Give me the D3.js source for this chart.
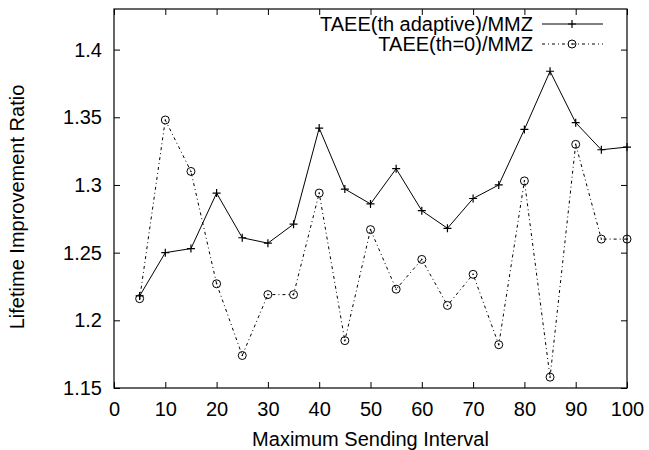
<!DOCTYPE html>
<html>
<head>
<meta charset="utf-8">
<script src="https://cdn.jsdelivr.net/npm/d3@7"></script>
<style>
  html, body { margin: 0; padding: 0; background: #fff; }
  svg { display: block; font-family: "Liberation Sans", Arial, Helvetica, sans-serif; }
</style>
</head>
<body>
<svg id="chart" width="649" height="450"></svg>
<script>
const intervals = [5,10,15,20,25,30,35,40,45,50,55,60,65,70,75,80,85,90,95,100];
const adaptive = [1.218,1.250,1.253,1.294,1.261,1.257,1.271,1.342,1.297,1.286,1.312,1.281,1.268,1.290,1.300,1.341,1.384,1.346,1.326,1.328];
const thZero = [1.216,1.348,1.310,1.227,1.174,1.219,1.219,1.294,1.185,1.267,1.223,1.245,1.211,1.234,1.182,1.303,1.158,1.330,1.260,1.260];
const xTicks = [0,10,20,30,40,50,60,70,80,90,100];
const yTicks = [1.15,1.2,1.25,1.3,1.35,1.4];
const yTickLabels = ["1.15","1.2","1.25","1.3","1.35","1.4"];
const seriesNames = ["TAEE(th adaptive)/MMZ","TAEE(th=0)/MMZ"];

const svg = d3.select("#chart");
const L = 114, R = 627, T = 9, B = 388;
const x = d3.scaleLinear().domain([0,100]).range([L,R]);
const y = d3.scaleLinear().domain([1.15,1.43]).range([B,T]);
const fs = 20;

// axes
const gB = svg.append("g").attr("transform",`translate(0,${B})`)
  .call(d3.axisBottom(x).tickValues(xTicks).tickSize(-6).tickPadding(14).tickFormat(d3.format("d")));
const gL = svg.append("g").attr("transform",`translate(${L},0)`)
  .call(d3.axisLeft(y).tickValues(yTicks).tickSize(-6).tickPadding(12).tickFormat((d,i)=>yTickLabels[i]));
const gT = svg.append("g").attr("transform",`translate(0,${T})`)
  .call(d3.axisTop(x).tickValues(xTicks).tickSize(-6).tickFormat(""));
const gR = svg.append("g").attr("transform",`translate(${R},0)`)
  .call(d3.axisRight(y).tickValues(yTicks).tickSize(-6).tickFormat(""));
[gB,gL,gT,gR].forEach(g=>{
  g.select(".domain").remove();
  g.selectAll("line").attr("stroke","#000").attr("stroke-width",1);
  g.selectAll("text").attr("font-size",fs).attr("fill","#000").attr("font-family","Liberation Sans, Arial, sans-serif");
});
svg.append("rect").attr("x",L).attr("y",T).attr("width",R-L).attr("height",B-T)
  .attr("fill","none").attr("stroke","#000").attr("stroke-width",1.2);

// axis titles
svg.append("text").attr("x",(L+R)/2).attr("y",446).attr("text-anchor","middle")
  .attr("font-size",fs).text("Maximum Sending Interval");
svg.append("text").attr("transform","translate(24,207) rotate(-90)").attr("text-anchor","middle")
  .attr("font-size",fs).text("Lifetime Improvement Ratio");

// series
const line = d3.line().x((d,i)=>x(intervals[i])).y(d=>y(d));
svg.append("path").datum(adaptive).attr("d",line).attr("fill","none")
  .attr("stroke","#000").attr("stroke-width",1);
svg.append("path").datum(thZero).attr("d",line).attr("fill","none")
  .attr("stroke","#000").attr("stroke-width",1).attr("stroke-dasharray","3,3,1,3");

function plus(g, cx, cy){
  g.append("path").attr("d",`M${cx-4},${cy}H${cx+4}M${cx},${cy-4}V${cy+4}`)
    .attr("stroke","#000").attr("stroke-width",1.2).attr("fill","none");
}
function circ(g, cx, cy){
  g.append("circle").attr("cx",cx).attr("cy",cy).attr("r",4)
    .attr("fill","none").attr("stroke","#000").attr("stroke-width",1);
  g.append("circle").attr("cx",cx).attr("cy",cy).attr("r",0.8).attr("fill","#000");
}
const gm = svg.append("g");
adaptive.forEach((v,i)=>plus(gm, x(intervals[i]), y(v)));
thZero.forEach((v,i)=>circ(gm, x(intervals[i]), y(v)));

// legend
const legY = [24,44];
seriesNames.forEach((n,i)=>{
  svg.append("text").attr("x",533).attr("y",legY[i]).attr("dy","0.35em")
    .attr("text-anchor","end").attr("font-size",fs).text(n);
  const ln = svg.append("line").attr("x1",542).attr("x2",603).attr("y1",legY[i]).attr("y2",legY[i])
    .attr("stroke","#000").attr("stroke-width",1);
  if(i===1) ln.attr("stroke-dasharray","3,3,1,3");
  if(i===0) plus(svg, 572, legY[i]); else circ(svg, 572, legY[i]);
});
</script>
</body>
</html>
